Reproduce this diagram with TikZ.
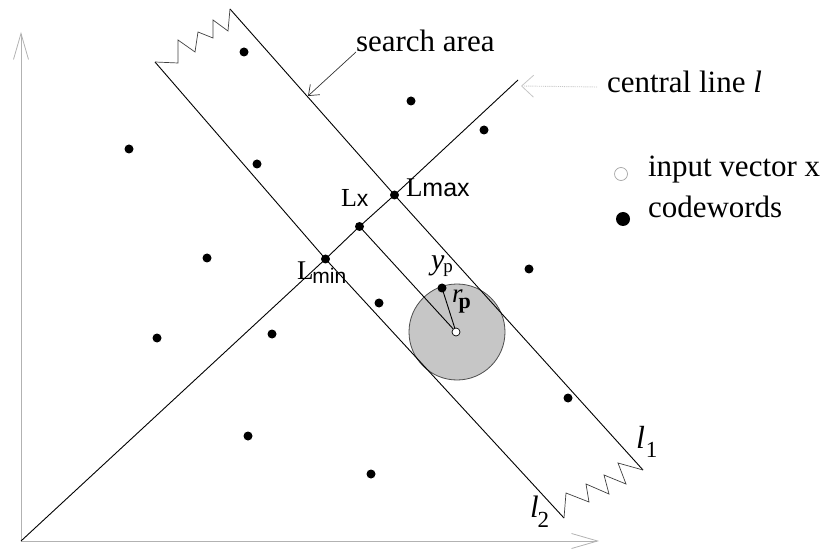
\documentclass[tikz,border=0pt]{standalone}
\usepackage{fontspec}
\setmainfont{Liberation Serif}
\newfontfamily\lsans{Liberation Sans}
\usetikzlibrary{arrows.meta}
\begin{document}
\begin{tikzpicture}[x=1bp,y=-1bp,
  cw/.style={circle,fill=black,inner sep=0pt,minimum size=9bp},
  thinline/.style={line width=0.9bp,black},
  zig/.style={line width=0.7bp,black!75,line join=miter},
  axisline/.style={line width=0.8bp,gray!60,-{Straight Barb[length=26bp,width=15bp,line width=0.8bp]}},
  lbl/.style={anchor=base west,inner sep=0pt,outer sep=0pt},
  big/.style={font=\fontsize{31bp}{36bp}\selectfont},
]
\useasboundingbox (0,0) rectangle (829,552);

% key coordinates
\coordinate (O) at (21,541);
\coordinate (Ytip) at (21,32);
\coordinate (Xtip) at (599,541);
\coordinate (Ctop) at (518,80);
\coordinate (l2top) at (155,62);
\coordinate (l2bot) at (564,518);
\coordinate (l1top) at (230,9);
\coordinate (l1bot) at (643,470);
\coordinate (saTip) at (308,96);
\coordinate (clStart) at (597,87);
\coordinate (clTip) at (521,86);

% shaded ball
\node (ball) [circle,fill=gray!45,draw=black!70,line width=0.8bp,minimum size=96bp,inner sep=0pt] at (457,332) {};

% codewords
\node[cw] (d1) at (244,52) {};
\node[cw] (d2) at (411,101) {};
\node[cw] (d3) at (129,149) {};
\node[cw] (d4) at (257,164) {};
\node[cw] (d5) at (207,258) {};
\node[cw] (d6) at (484,130) {};
\node[cw] (d7) at (529,269) {};
\node[cw] (d8) at (379,303) {};
\node[cw] (d9) at (157,338) {};
\node[cw] (d10) at (272,334) {};
\node[cw] (d11) at (248,436) {};
\node[cw] (d12) at (371,474) {};
\node[cw] (d13) at (568,398) {};
\node[cw] (yp) at (442,288) {};
\node[cw] (Lmax) at (394.5,195) {};
\node[cw] (Lx) at (359.5,226.5) {};
\node[cw] (Lmin) at (325.5,259) {};

% axes
\draw[axisline] (O) -- (Ytip);
\draw[axisline] (O) -- (Xtip);

% central line and band lines
\draw[thinline] (O) -- (Lmin.center) -- (Lx.center) -- (Lmax.center) -- (Ctop);
\draw[thinline] (l2top) -- (Lmin.center) -- (l2bot);
\draw[thinline] (l1top) -- (Lmax.center) -- (l1bot);

% zigzag ends of the band
\draw[zig] (l2top) -- (178,63) -- (178,40) -- (195,52) -- (198,32) -- (213,38) -- (213,20) -- (228,31) -- (l1top);
\draw[zig] (l2bot) -- (566,493) -- (589,502) -- (586,484) -- (609,494) -- (604,475) -- (626,484) -- (618,463) -- (l1bot);

% input vector and radii
\node (x) [circle,fill=white,draw=black,line width=0.7bp,minimum size=8bp,inner sep=0pt] at (456,332) {};
\draw[thinline] (Lx.center) -- (x);
\draw[thinline] (yp.center) -- (x);

% labels
\node[lbl,big] (sa) at (356,52) {search area};
\draw[line width=0.7bp,black!80,-{Straight Barb[length=9bp,width=14bp,line width=0.7bp]}] (sa.base west) -- (saTip);

\node[lbl,big] (cl) at (607,93) {central line \textit{l}};
\draw[line width=0.9bp,gray!45,densely dotted,-{Straight Barb[length=12bp,width=22bp,line width=0.8bp]}] (clStart) -- (clTip);

\node[circle,draw=gray!70,line width=0.7bp,minimum size=13bp,inner sep=0pt] (legx) at (621,174) {};
\node[lbl,big] (legxt) at (648,177) {input vector x};
\node[cw,minimum size=14bp] (legcw) at (623,219) {};
\node[lbl,big] (legcwt) at (648,218) {codewords};

\node[lbl] (tLmax) at (406,197) {\fontsize{27bp}{30bp}\selectfont L{\lsans\fontsize{25bp}{28bp}\selectfont max}};
\node[lbl] (tLx) at (341,207) {\fontsize{26bp}{30bp}\selectfont L{\lsans\fontsize{23bp}{26bp}\selectfont x}};
\node[lbl] (tLmin) at (297,280) {\fontsize{27bp}{30bp}\selectfont L\kern-1bp\raisebox{-4bp}{\lsans\fontsize{21bp}{24bp}\selectfont min}};

\node[lbl] (typ) at (431,270) {{\fontsize{30bp}{32bp}\selectfont\itshape y}\kern-1bp\raisebox{-3bp}{\fontsize{19bp}{22bp}\selectfont p}};
\node[lbl] (trp) at (452,303) {{\fontsize{27bp}{30bp}\selectfont\itshape r}\kern-4bp\raisebox{-6bp}{\fontsize{22bp}{24bp}\selectfont\bfseries p}};

\node[lbl] (tl1) at (636,448) {{\fontsize{32bp}{34bp}\selectfont\itshape l}\kern1bp\raisebox{-9bp}{\fontsize{23bp}{26bp}\selectfont 1}};
\node[lbl] (tl2) at (530,517) {{\fontsize{31bp}{34bp}\selectfont\itshape l}\kern-1bp\raisebox{-10bp}{\fontsize{23bp}{26bp}\selectfont 2}};
\end{tikzpicture}
\end{document}
